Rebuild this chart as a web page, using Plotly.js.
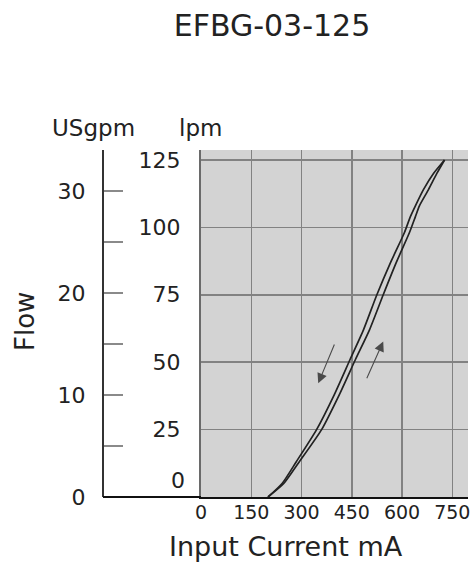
<!DOCTYPE html>
<html>
<head>
<meta charset="utf-8">
<script src="https://cdn.plot.ly/plotly-3.0.1.min.js"></script>
<style>html,body{margin:0;padding:0;background:#fff;}#chart{width:474px;height:563px;}</style>
</head>
<body>
<div id="chart"></div>
<script>
// Data (Input current mA vs flow lpm)
const currentDown = [200, 242, 284, 345, 398, 445, 485, 525, 566, 607, 625, 640, 664, 694, 727];
const flowDown    = [0,   5,   13,  25,  38,  51,  62,  75,  87,  98,  104, 108, 114, 120, 125];
const currentUp   = [200, 247, 293, 360, 413, 461, 503, 544, 583, 622, 640, 652, 679, 704, 727];
const flowUp      = [0,   5,   13,  25,  38,  51,  62,  75,  87,  98,  104, 108, 114, 120, 125];

const xTicks = [0, 150, 300, 450, 600, 750];
const lpmTicks = [25, 50, 75, 100, 125];
const gpmTicks = [0, 5, 10, 15, 20, 25, 30];
const gpmLabels = ['0', '', '10', '', '20', '', '30'];
const LPM_PER_GPM = 3.785;

const xMax = 797;
const lpmMax = 128.7;

const font = 'DejaVu Sans, Liberation Sans, Arial, sans-serif';
const txt = '#222';

const traces = [
  {x: currentDown, y: flowDown, type: 'scatter', mode: 'lines',
   line: {color: '#222', width: 1.7, shape: 'spline', smoothing: 0.6},
   hoverinfo: 'skip', showlegend: false},
  {x: currentUp, y: flowUp, type: 'scatter', mode: 'lines',
   line: {color: '#222', width: 1.7, shape: 'spline', smoothing: 0.6},
   hoverinfo: 'skip', showlegend: false},
  // invisible trace to activate the USgpm axis
  {x: [0], y: [0], yaxis: 'y2', type: 'scatter', mode: 'markers',
   marker: {opacity: 0}, hoverinfo: 'skip', showlegend: false}
];

const domStart = (201 - 103) / 365;

const layout = {
  width: 474, height: 563,
  margin: {l: 103, r: 6, t: 150, b: 66},
  paper_bgcolor: '#ffffff',
  plot_bgcolor: '#d3d3d3',
  font: {family: font, color: txt},
  title: {text: 'EFBG-03-125', font: {size: 30, family: font, color: txt},
          x: 272 / 474, xref: 'container', xanchor: 'center',
          y: 1 - 25 / 563, yref: 'container', yanchor: 'middle'},
  xaxis: {domain: [domStart, 1], range: [0, xMax], tickvals: xTicks,
          showgrid: true, gridcolor: '#828282', gridwidth: 1.5,
          zeroline: false, showline: true, linecolor: '#111', linewidth: 2,
          ticks: '', tickfont: {size: 19, color: txt}, ticklabelstandoff: -3,
          fixedrange: true},
  yaxis: {range: [0, lpmMax], tickvals: lpmTicks,
          showgrid: true, gridcolor: '#828282', gridwidth: 1.5,
          zeroline: false, showline: true, linecolor: '#6a6a6a', linewidth: 2,
          ticks: '', tickfont: {size: 22, color: txt}, ticklabelstandoff: 14,
          fixedrange: true},
  yaxis2: {overlaying: 'y', anchor: 'free', position: 0, side: 'left',
           range: [0, lpmMax / LPM_PER_GPM], tickvals: gpmTicks, ticktext: gpmLabels,
           showgrid: false, zeroline: false, showline: true, linecolor: '#333', linewidth: 2,
           ticks: 'inside', ticklen: 19, tickcolor: '#8a8a8a', tickwidth: 1.5,
           tickfont: {size: 22, color: txt}, ticklabelstandoff: 12,
           fixedrange: true},
  shapes: [
    {type: 'line', xref: 'paper', yref: 'paper', x0: 0, x1: domStart, y0: 0, y1: 0,
     line: {color: '#111', width: 2}}
  ],
  annotations: [
    {text: '0', xref: 'paper', yref: 'y', x: domStart, y: 0, xanchor: 'right', yanchor: 'middle',
     xshift: -14, yshift: 17, showarrow: false, font: {size: 22, color: txt}},
    {text: 'USgpm', xref: 'paper', yref: 'paper', x: (93 - 103) / 365, y: (497 - 128) / 347,
     xanchor: 'center', yanchor: 'middle', showarrow: false, font: {size: 23, color: txt}},
    {text: 'lpm', xref: 'paper', yref: 'paper', x: (200 - 103) / 365, y: (497 - 128) / 347,
     xanchor: 'center', yanchor: 'middle', showarrow: false, font: {size: 23, color: txt}},
    {text: 'Flow', xref: 'paper', yref: 'paper', x: (25 - 103) / 365, y: (497 - 322) / 347,
     xanchor: 'center', yanchor: 'middle', textangle: -90, showarrow: false,
     font: {size: 26, color: txt}},
    {text: 'Input Current mA', xref: 'paper', yref: 'paper', x: (286 - 103) / 365, y: (497 - 546) / 347,
     xanchor: 'center', yanchor: 'middle', showarrow: false, font: {size: 27, color: txt}},
    {x: 350, y: 42.2, ax: 400, ay: 57.1, axref: 'x', ayref: 'y', xref: 'x', yref: 'y',
     text: '', showarrow: true, arrowhead: 2, arrowsize: 1.8, arrowwidth: 1.1, arrowcolor: '#4a4a4a'},
    {x: 544, y: 57.7, ax: 493, ay: 43.5, axref: 'x', ayref: 'y', xref: 'x', yref: 'y',
     text: '', showarrow: true, arrowhead: 2, arrowsize: 1.8, arrowwidth: 1.1, arrowcolor: '#4a4a4a'}
  ]
};

Plotly.newPlot('chart', traces, layout, {displayModeBar: false, staticPlot: true});
</script>
</body>
</html>
